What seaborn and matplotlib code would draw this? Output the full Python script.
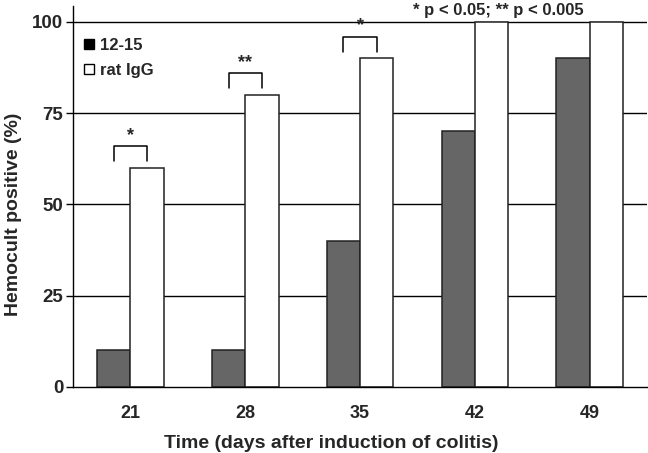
import matplotlib
matplotlib.use("Agg")
import matplotlib.pyplot as plt
import seaborn as sns
import pandas as pd
from matplotlib.lines import Line2D

days = ["21", "28", "35", "42", "49"]
treated = [10, 10, 40, 70, 90]       # 12-15
control = [60, 80, 90, 100, 100]     # rat IgG
groups = ["12-15", "rat IgG"]
sig = ["*", "**", "*", "", ""]
yticks = [0, 25, 50, 75, 100]

df = pd.DataFrame({
    "day": days * 2,
    "value": treated + control,
    "group": [groups[0]] * len(days) + [groups[1]] * len(days),
})

sns.set_style("white")
plt.rcParams["font.family"] = ["Liberation Sans", "DejaVu Sans"]
plt.rcParams["font.weight"] = "bold"

fig = plt.figure(figsize=(6.48, 4.53), dpi=100)
ax = fig.add_axes([0.1127, 0.1457, 0.886, 0.842])

for y in yticks[1:]:
    ax.axhline(y, color="black", lw=1.0, zorder=0)

sns.barplot(data=df, x="day", y="value", hue="group", order=days,
            hue_order=groups, palette=["#666666", "white"], edgecolor="#222222",
            linewidth=1.1, width=0.58, gap=0, saturation=1, legend=False, ax=ax,
            zorder=2)

ax.set_xlim(-0.5, len(days) - 0.5)
ax.set_ylim(0, 104.5)
ax.set_yticks(yticks)
ax.set_yticklabels([str(t) for t in yticks], fontsize=13.5, fontweight="bold")
ax.set_xticks(range(len(days)))
ax.set_xticklabels(days, fontsize=13, fontweight="bold")
ax.set_xticks([i + 0.5 for i in range(len(days))], minor=True)
ax.tick_params(axis="x", which="major", length=0, pad=13)
ax.tick_params(axis="x", which="minor", length=5, width=1, direction="out", color="black")
ax.tick_params(axis="y", length=5, width=1, direction="out", color="black", left=True, pad=2)
ax.grid(False)
for s in ["top", "right"]:
    ax.spines[s].set_visible(False)
for s in ["left", "bottom"]:
    ax.spines[s].set_color("black")
    ax.spines[s].set_linewidth(1.0)

ax.set_xlabel("Time (days after induction of colitis)", fontsize=14, fontweight="bold")
ax.set_ylabel("Hemocult positive (%)", fontsize=14, fontweight="bold")
ax.xaxis.set_label_coords(0.45, -0.125)
ax.yaxis.set_label_coords(-0.089, 0.454)

# significance brackets
off = 0.29 / 2
for i, s in enumerate(sig):
    if not s:
        continue
    x0, x1 = i - off, i + off
    top = control[i] + 6
    bot = control[i] + 1.8
    ax.plot([x0, x0, x1, x1], [bot, top, top, bot], color="black", lw=1.1, zorder=3)
    ax.text(i, top + 0.6, s, ha="center", va="bottom", fontsize=13, fontweight="bold")

ax.text(3.2, 103.2, "* p < 0.05; ** p < 0.005",
        ha="center", va="center", fontsize=12, fontweight="bold")

handles = [Line2D([], [], marker="s", linestyle="none", markerfacecolor="black",
                  markeredgecolor="black", markersize=7.5),
           Line2D([], [], marker="s", linestyle="none", markerfacecolor="white",
                  markeredgecolor="black", markersize=7.5)]
ax.legend(handles, groups, loc="upper left", bbox_to_anchor=(-0.01, 0.955), frameon=False,
          prop={"weight": "bold", "size": 12}, handletextpad=0.25, handlelength=0.8,
          labelspacing=0.6, borderaxespad=0.5)

fig.savefig("out.png", dpi=100)
